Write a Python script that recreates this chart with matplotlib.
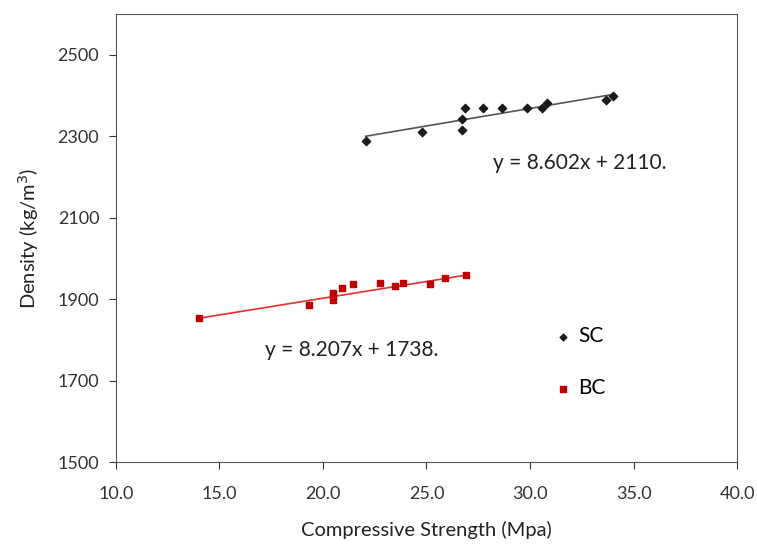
import numpy as np
import matplotlib.pyplot as plt

plt.rcParams['font.family'] = ['Lato', 'DejaVu Sans']

# SC (self-compacting) data
sc_strength = [22.06, 24.78, 26.73, 26.73, 26.86, 27.71, 28.66, 29.84, 30.59, 30.84, 33.69, 34.0]
sc_density = [2289, 2311, 2316, 2343, 2370, 2370, 2370, 2370, 2370, 2382, 2390, 2398]
sc_fit = (8.602, 2110.0)

# BC data
bc_strength = [14.02, 19.32, 20.5, 20.5, 20.5, 20.93, 21.47, 22.77, 23.5, 23.88, 25.19, 25.9, 26.92]
bc_density = [1854, 1885, 1899, 1908, 1916, 1928, 1937, 1939, 1933, 1939, 1937, 1952, 1960]
bc_fit = (8.207, 1738.0)

fig = plt.figure(figsize=(7.57, 5.48), dpi=100)
ax = fig.add_axes([0.1532, 0.1569, 0.8204, 0.8176])

# trend lines over the data range
xs = np.array([min(sc_strength), max(sc_strength)])
ax.plot(xs, sc_fit[0] * xs + sc_fit[1], color='#555555', lw=1.2, zorder=2)
xb = np.array([min(bc_strength), max(bc_strength)])
ax.plot(xb, bc_fit[0] * xb + bc_fit[1], color='#e03030', lw=1.2, zorder=2)

ax.scatter(sc_strength, sc_density, marker='D', s=18, color='#1a1a1a', label='SC', zorder=3)
ax.scatter(bc_strength, bc_density, marker='s', s=22, color='#c00000', label='BC', zorder=3)

ax.text(28.2, 2235, 'y = 8.602x + 2110.', fontsize=15, color='#222222', va='center')
ax.text(17.2, 1775, 'y = 8.207x + 1738.', fontsize=15, color='#222222', va='center')

ax.set_xlim(10, 40)
ax.set_ylim(1500, 2600)
ax.set_xticks(np.arange(10, 41, 5))
ax.set_xticklabels(['%.1f' % v for v in np.arange(10, 41, 5)])
ax.set_yticks(np.arange(1500, 2501, 200))
ax.tick_params(labelsize=13, colors='#333333', length=5, direction='out')
ax.tick_params(axis='x', pad=12)
ax.tick_params(axis='y', pad=7)
for s in ax.spines.values():
    s.set_color('#555555')

ax.set_xlabel('Compressive Strength (Mpa)', fontsize=14.5, color='#222222', labelpad=14)
ax.set_ylabel('Density (kg/m$^3$)', fontsize=14.5, color='#222222', labelpad=12)

leg = ax.legend(loc='upper left', bbox_to_anchor=(0.68, 0.345), frameon=False,
                fontsize=15, labelspacing=1.55, handlelength=0.6, handletextpad=0.4,
                markerscale=0.8)

fig.savefig('out.png', dpi=100)
